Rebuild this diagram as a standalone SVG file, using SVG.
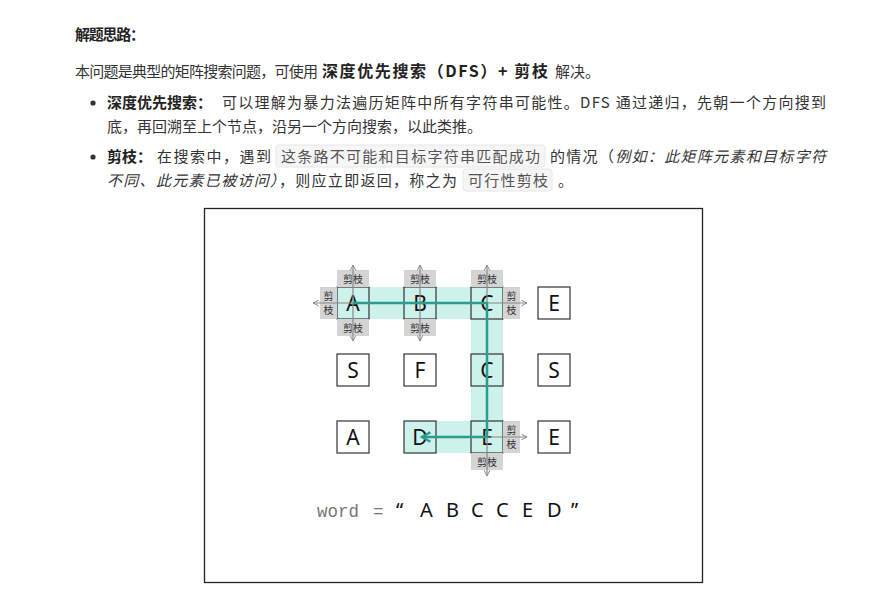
<svg xmlns="http://www.w3.org/2000/svg" width="869" height="596" viewBox="0 0 869 596">
<style>
.t{font-family:"Noto Sans CJK SC","Noto Sans",sans-serif;font-size:15px;fill:#333}
.b{font-weight:bold;fill:#222}
.i{font-style:italic}
.code{fill:#f6f6f6;stroke:#e6e6e6;stroke-width:1}
.ct{fill:#555}
.box{fill:#fff;stroke:#333;stroke-width:1.2}
.hl{fill:#cdf1eb;stroke:#333;stroke-width:1.2}
.lt{font-family:"Noto Sans","DejaVu Sans",sans-serif;font-size:21px;fill:#111;text-anchor:middle}
.pr{fill:#d4d4d4}
.pt{font-family:"Noto Sans CJK SC",sans-serif;font-size:10px;fill:#333;text-anchor:middle}
.ga{stroke:#888;stroke-width:1.2;fill:none}
.path{stroke:#2a9d8f;stroke-width:2.5;fill:none}
</style>
<defs>
<marker id="ag" viewBox="0 0 10 10" refX="9" refY="5" markerWidth="7" markerHeight="7" orient="auto-start-reverse" markerUnits="userSpaceOnUse">
<path d="M1,1 L9,5 L1,9" fill="none" stroke="#888" stroke-width="1.4"/>
</marker>
<marker id="at" viewBox="0 0 10 10" refX="8" refY="5" markerWidth="12" markerHeight="12" orient="auto" markerUnits="userSpaceOnUse">
<path d="M1,1 L8,5 L1,9" fill="none" stroke="#2a9d8f" stroke-width="2"/>
</marker>
</defs>
<rect width="869" height="596" fill="#fff"/>

<g id="text">
<text class="t b" x="75" y="40" textLength="70" lengthAdjust="spacing">解题思路：</text>
<text class="t" x="75" y="77" textLength="243" lengthAdjust="spacing">本问题是典型的矩阵搜索问题，可使用</text>
<text class="t b" x="322" y="77" style="font-size:16px" textLength="226" lengthAdjust="spacing">深度优先搜索（DFS）+ 剪枝</text>
<text class="t" x="555" y="77">解决。</text>
<circle cx="93" cy="103" r="2.6" fill="#333"/>
<text class="t b" x="107" y="108">深度优先搜索：</text>
<text class="t" x="222" y="108" textLength="604" lengthAdjust="spacing">可以理解为暴力法遍历矩阵中所有字符串可能性。DFS 通过递归，先朝一个方向搜到</text>
<text class="t" x="107" y="132">底，再回溯至上个节点，沿另一个方向搜索，以此类推。</text>
<circle cx="93" cy="157" r="2.6" fill="#333"/>
<text class="t b" x="107" y="162">剪枝：</text>
<text class="t" x="157" y="162" textLength="114" lengthAdjust="spacing">在搜索中，遇到</text>
<rect class="code" x="276" y="145" width="269" height="22" rx="3"/>
<text class="t ct" x="281" y="162" textLength="259" lengthAdjust="spacing">这条路不可能和目标字符串匹配成功</text>
<text class="t" x="550" y="162" textLength="276" lengthAdjust="spacing">的情况（<tspan class="i">例如：此矩阵元素和目标字符</tspan></text>
<text class="t" x="107" y="186" textLength="350" lengthAdjust="spacing"><tspan class="i">不同、此元素已被访问）</tspan>，则应立即返回，称之为</text>
<rect class="code" x="463" y="169" width="89" height="22" rx="3"/>
<text class="t ct" x="468" y="186" textLength="80" lengthAdjust="spacing">可行性剪枝</text>
<text class="t" x="558" y="186">。</text>
</g>

<rect id="frame" x="204.5" y="208.5" width="498" height="374" fill="#fff" stroke="#222" stroke-width="1.3"/>

<g id="bands">
<rect x="337" y="287" width="166" height="32" fill="#cdf1eb"/>
<rect x="471" y="287" width="32" height="166" fill="#cdf1eb"/>
<rect x="404" y="421" width="99" height="32" fill="#cdf1eb"/>
</g>

<g id="node-r1c1"><rect class="hl" x="337" y="287" width="32" height="32"/><text class="lt" x="353" y="311">A</text></g>
<g id="node-r1c2"><rect class="hl" x="404" y="287" width="32" height="32"/><text class="lt" x="420" y="311">B</text></g>
<g id="node-r1c3"><rect class="hl" x="471" y="287" width="32" height="32"/><text class="lt" x="487" y="311">C</text></g>
<g id="node-r1c4"><rect class="box" x="538" y="287" width="32" height="32"/><text class="lt" x="554" y="311">E</text></g>
<g id="node-r2c1"><rect class="box" x="337" y="354" width="32" height="32"/><text class="lt" x="353" y="378">S</text></g>
<g id="node-r2c2"><rect class="box" x="404" y="354" width="32" height="32"/><text class="lt" x="420" y="378">F</text></g>
<g id="node-r2c3"><rect class="hl" x="471" y="354" width="32" height="32"/><text class="lt" x="487" y="378">C</text></g>
<g id="node-r2c4"><rect class="box" x="538" y="354" width="32" height="32"/><text class="lt" x="554" y="378">S</text></g>
<g id="node-r3c1"><rect class="box" x="337" y="421" width="32" height="32"/><text class="lt" x="353" y="445">A</text></g>
<g id="node-r3c2"><rect class="hl" x="404" y="421" width="32" height="32"/><text class="lt" x="420" y="445">D</text></g>
<g id="node-r3c3"><rect class="hl" x="471" y="421" width="32" height="32"/><text class="lt" x="487" y="445">E</text></g>
<g id="node-r3c4"><rect class="box" x="538" y="421" width="32" height="32"/><text class="lt" x="554" y="445">E</text></g>

<g id="prune-labels">
<rect class="pr" x="337" y="270" width="32" height="17"/><text class="pt" x="353" y="282.5">剪枝</text>
<rect class="pr" x="337" y="319" width="32" height="17"/><text class="pt" x="353" y="331.5">剪枝</text>
<rect class="pr" x="320" y="287" width="17" height="32"/><text class="pt" x="328.5" y="300">剪</text><text class="pt" x="328.5" y="314">枝</text>
<rect class="pr" x="404" y="270" width="32" height="17"/><text class="pt" x="420" y="282.5">剪枝</text>
<rect class="pr" x="404" y="319" width="32" height="17"/><text class="pt" x="420" y="331.5">剪枝</text>
<rect class="pr" x="471" y="270" width="32" height="17"/><text class="pt" x="487" y="282.5">剪枝</text>
<rect class="pr" x="503" y="287" width="17" height="32"/><text class="pt" x="511.5" y="300">剪</text><text class="pt" x="511.5" y="314">枝</text>
<rect class="pr" x="503" y="421" width="17" height="32"/><text class="pt" x="511.5" y="434">剪</text><text class="pt" x="511.5" y="448">枝</text>
<rect class="pr" x="471" y="453" width="32" height="17"/><text class="pt" x="487" y="465.5">剪枝</text>
</g>

<g id="connectors">
<line class="ga" x1="353" y1="265" x2="353" y2="341" marker-start="url(#ag)" marker-end="url(#ag)"/>
<line class="ga" x1="353" y1="303" x2="313" y2="303" marker-end="url(#ag)"/>
<line class="ga" x1="420" y1="265" x2="420" y2="341" marker-start="url(#ag)" marker-end="url(#ag)"/>
<line class="ga" x1="487" y1="303" x2="487" y2="265" marker-end="url(#ag)"/>
<line class="ga" x1="487" y1="303" x2="527" y2="303" marker-end="url(#ag)"/>
<line class="ga" x1="487" y1="437" x2="527" y2="437" marker-end="url(#ag)"/>
<line class="ga" x1="487" y1="437" x2="487" y2="476" marker-end="url(#ag)"/>
<path class="path" d="M353,303 H487 V437 H422" marker-end="url(#at)"/>
</g>

<g id="word">
<text x="317" y="517" font-family="'Liberation Mono','DejaVu Sans Mono',monospace" font-size="17.5" fill="#777">word</text>
<text x="373" y="517" font-family="'Liberation Mono','DejaVu Sans Mono',monospace" font-size="17.5" fill="#777">=</text>
<g font-family="'Noto Sans','DejaVu Sans',sans-serif" font-size="20" fill="#111">
<text x="396" y="517">“</text>
<text x="420" y="517">A</text>
<text x="446" y="517">B</text>
<text x="471" y="517">C</text>
<text x="496" y="517">C</text>
<text x="522" y="517">E</text>
<text x="547" y="517">D</text>
<text x="571" y="517">”</text>
</g>
</g>
</svg>
